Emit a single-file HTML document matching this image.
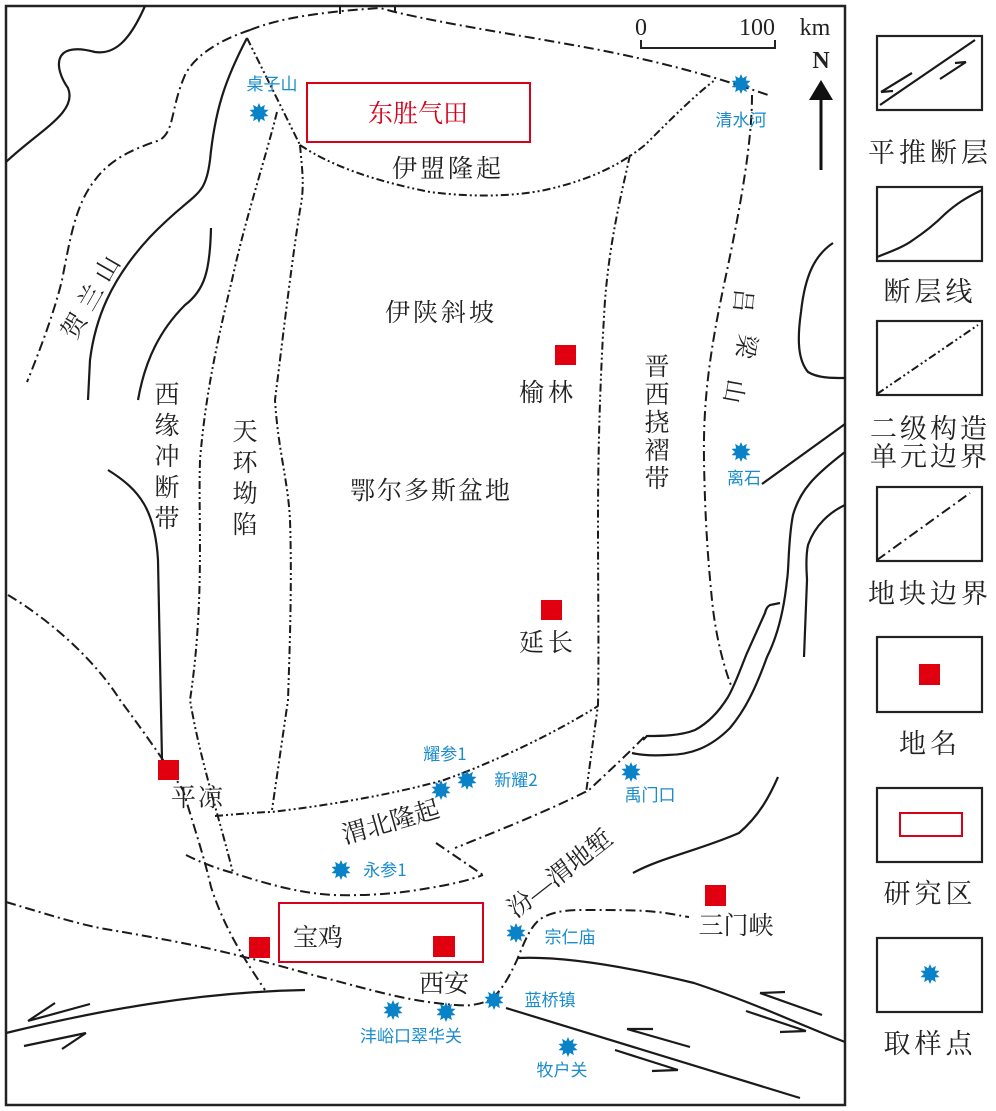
<!DOCTYPE html>
<html><head><meta charset="utf-8"><style>
html,body{margin:0;padding:0;background:#fff;}
svg{display:block;}
text{font-family:"Liberation Serif","Noto Serif CJK SC","Noto Sans CJK SC",serif;}
.c{font-family:"Noto Serif CJK SC","Noto Sans CJK SC",serif;fill:#222;}
.b{fill:#1a8ccc;font-family:"Noto Sans CJK SC",sans-serif;font-size:17px;}
.s{fill:none;stroke:#1a1a1a;stroke-width:2.2;}
.d{fill:none;stroke:#1a1a1a;stroke-width:2;stroke-dasharray:10 4 2 4;}
.dd{fill:none;stroke:#1a1a1a;stroke-width:2;stroke-dasharray:8 3 2 3 2 3;}
.r{fill:#e0000f;}
</style></head><body>
<svg width="996" height="1111" viewBox="0 0 996 1111" xmlns="http://www.w3.org/2000/svg">
<defs>
<polygon id="st" fill="#0a82c8" points="0,-10 1.85,-5.71 5.88,-8.09 4.85,-3.53 9.51,-3.09 6,0 9.51,3.09 4.85,3.53 5.88,8.09 1.85,5.71 0,10 -1.85,5.71 -5.88,8.09 -4.85,3.53 -9.51,3.09 -6,0 -9.51,-3.09 -4.85,-3.53 -5.88,-8.09 -1.85,-5.71"/>
</defs>
<rect x="0" y="0" width="996" height="1111" fill="#fff"/>
<!-- main frame -->
<rect x="6" y="6" width="839" height="1099" fill="none" stroke="#222" stroke-width="2.5"/>

<!-- solid lines -->
<path class="s" d="M145,6 C130,40 115,55 95,52 C50,40 55,70 68,88 C78,112 40,130 6,162"/>
<path class="s" d="M247,38 C225,80 215,110 210,160 C205,200 195,190 150,237 C110,280 95,320 90,360 L88,400"/>
<path class="s" d="M211,228 C210,270 205,290 185,305 C160,330 145,360 138,400"/>
<path class="s" d="M108,470 C140,490 155,510 158,560 L162,760"/>
<path class="s" d="M6,1033 C100,1010 200,992 305,990"/>
<path class="s" d="M517,958 C560,956 620,965 694,983 C760,1005 800,1025 845,1042"/>
<path class="s" d="M506,1008 L800,1098"/>
<path class="s" d="M633,873 C660,858 700,850 739,833 C760,815 770,795 778,777"/>
<path class="s" d="M833,243 C815,255 805,275 801,312 C797,340 798,360 808,372 C818,378 830,378 845,378"/>
<path class="s" d="M845,424 L762,484"/>
<path class="s" d="M845,452 C815,475 800,490 793,515 C788,540 789,570 787,580 C784,610 778,635 767,657 C755,690 745,710 730,728 C710,748 690,755 667,755 C650,756 640,755 632,753"/>
<path class="s" d="M845,505 C830,512 815,525 808,545 C805,560 807,575 807,580 L804,657"/>
<path class="s" d="M780,603 L770,605 C767,607 766,609 765,613 L747,653 C740,670 735,685 728,697 C720,710 710,722 695,730 C680,736 660,736 647,736 L643,740"/>
<!-- half arrows left -->
<path class="s" d="M28,1021 L90,1004 M28,1021 L55,1003"/>
<path class="s" d="M24,1046 L86,1033 M86,1033 L62,1049"/>
<!-- half arrows right -->
<path class="s" d="M760,993 L822,1015 M760,993 L785,992"/>
<path class="s" d="M746,1011 L806,1031 M806,1031 L780,1032"/>
<path class="s" d="M627,1029 L690,1047 M627,1029 L653,1029"/>
<path class="s" d="M615,1050 L678,1070 M678,1070 L652,1071"/>

<!-- dash-dot lines -->
<path class="d" d="M250,30 C280,18 320,12 380,8 L395,12 C450,25 520,35 600,50 C660,62 710,75 768,95"/>
<path class="d" d="M340,6 L340,14 M395,6 L395,12"/>
<path class="d" d="M250,30 C220,40 195,55 185,75 C170,110 175,130 160,140 C130,150 110,160 95,180 C75,205 70,240 62,280 C55,310 40,350 27,382"/>
<path class="dd" d="M247,38 L300,145"/>
<path class="dd" d="M300,145 C330,165 370,180 430,192 C470,197 510,197 545,190 C590,180 620,165 645,145 C670,120 695,95 715,80"/>
<path class="dd" d="M277,112 C265,160 245,220 232,280 C215,350 205,400 200,460 C198,520 205,600 190,700 C200,760 220,820 233,873"/>
<path class="dd" d="M300,145 C302,170 305,185 300,210 C292,260 285,320 275,400 C278,450 288,480 290,520 C292,580 290,640 288,700 L272,810"/>
<path class="dd" d="M630,155 C620,200 610,240 605,300 C600,380 598,450 598,520 C598,600 599,650 598,705 L586,793"/>
<path class="d" d="M752,95 C752,140 742,200 725,280 C710,350 703,400 704,460 C705,520 708,560 712,600 C716,640 725,670 732,688"/>
<path class="dd" d="M215,816 C240,814 260,812 272,812 C330,805 390,795 444,780 C500,760 560,730 598,706"/>
<path class="d" d="M644,737 C630,752 610,770 589,790 C550,810 500,830 455,848"/>
<path class="d" d="M436,843 L483,875"/>
<path class="d" d="M186,855 C200,862 215,868 233,873 C270,885 300,893 333,895 C370,896 400,893 417,890 C450,885 470,880 483,875"/>
<path class="d" d="M8,595 C50,620 95,660 120,700 C150,740 170,770 183,790 C195,830 205,860 211,887 C225,930 245,960 265,990"/>
<path class="d" d="M6,902 C50,915 80,925 111,930 C170,940 210,948 244,957 C280,965 310,975 333,980 C370,990 400,998 428,1002 C450,1005 465,1006 472,1005 C485,1003 490,1000 494,997 C505,985 510,975 517,960 C525,940 530,928 539,920 C550,912 565,910 583,910 C620,910 640,910 656,912 C670,913 680,916 689,917"/>

<!-- red boxes -->
<rect x="307" y="83" width="223" height="59" fill="none" stroke="#d8001a" stroke-width="2"/>
<text x="418" y="122" text-anchor="middle" font-size="25" fill="#d8001a" class="c" style="fill:#d8001a">东胜气田</text>
<rect x="279" y="903" width="204" height="59" fill="none" stroke="#d8001a" stroke-width="2"/>

<!-- red squares -->
<rect class="r" x="555" y="345" width="21" height="20"/>
<rect class="r" x="541" y="600" width="21" height="20"/>
<rect class="r" x="158" y="760" width="21" height="20"/>
<rect class="r" x="705" y="885" width="21" height="21"/>
<rect class="r" x="249" y="937" width="21" height="21"/>
<rect class="r" x="433" y="936" width="22" height="21"/>

<!-- stars -->
<use href="#st" x="259" y="113"/>
<use href="#st" x="741" y="84"/>
<use href="#st" x="741" y="452"/>
<use href="#st" x="441" y="790"/>
<use href="#st" x="467" y="780"/>
<use href="#st" x="631" y="772"/>
<use href="#st" x="341" y="870"/>
<use href="#st" x="516" y="933"/>
<use href="#st" x="494" y="1000"/>
<use href="#st" x="393" y="1010"/>
<use href="#st" x="446" y="1012"/>
<use href="#st" x="568" y="1047"/>

<!-- black labels -->
<g class="c" font-size="25">
<text x="448" y="177" text-anchor="middle" letter-spacing="3">伊盟隆起</text>
<text x="441" y="321" text-anchor="middle" letter-spacing="3">伊陕斜坡</text>
<text x="548" y="401" text-anchor="middle" letter-spacing="4">榆林</text>
<text x="431" y="499" text-anchor="middle" letter-spacing="2">鄂尔多斯盆地</text>
<text x="548" y="651" text-anchor="middle" letter-spacing="4">延长</text>
<text x="198" y="806" text-anchor="middle" letter-spacing="2">平凉</text>
<text x="318" y="946" text-anchor="middle">宝鸡</text>
<text x="444" y="992" text-anchor="middle">西安</text>
<text x="736" y="934" text-anchor="middle">三门峡</text>
<text transform="translate(393,830) rotate(-16)" text-anchor="middle">渭北隆起</text>
<text transform="translate(565,880) rotate(-38)" text-anchor="middle">汾—渭地堑</text>
<text transform="translate(100,298) rotate(-60)" text-anchor="middle" letter-spacing="8">贺兰山</text>
<text x="167" y="403" text-anchor="middle">西</text>
<text x="167" y="434" text-anchor="middle">缘</text>
<text x="167" y="465" text-anchor="middle">冲</text>
<text x="167" y="496" text-anchor="middle">断</text>
<text x="167" y="527" text-anchor="middle">带</text>
<text x="245" y="440" text-anchor="middle">天</text>
<text x="245" y="471" text-anchor="middle">环</text>
<text x="245" y="502" text-anchor="middle">坳</text>
<text x="245" y="533" text-anchor="middle">陷</text>
<text x="657" y="375" text-anchor="middle">晋</text>
<text x="657" y="403" text-anchor="middle">西</text>
<text x="657" y="431" text-anchor="middle">挠</text>
<text x="657" y="459" text-anchor="middle">褶</text>
<text x="657" y="487" text-anchor="middle">带</text>
<text transform="translate(735,300) rotate(95)" text-anchor="middle" font-size="24">吕</text>
<text transform="translate(738,345) rotate(100)" text-anchor="middle" font-size="24">梁</text>
<text transform="translate(726,390) rotate(100)" text-anchor="middle" font-size="24">山</text>
</g>

<!-- blue labels -->
<text class="b" x="272" y="90" text-anchor="middle">桌子山</text>
<text class="b" x="741" y="126" text-anchor="middle">清水河</text>
<text class="b" x="744" y="484" text-anchor="middle">离石</text>
<text class="b" x="445" y="760" text-anchor="middle">耀参1</text>
<text class="b" x="516" y="786" text-anchor="middle">新耀2</text>
<text class="b" x="650" y="801" text-anchor="middle">禹门口</text>
<text class="b" x="385" y="876" text-anchor="middle">永参1</text>
<text class="b" x="570" y="943" text-anchor="middle">宗仁庙</text>
<text class="b" x="550" y="1006" text-anchor="middle">蓝桥镇</text>
<text class="b" x="411" y="1042" text-anchor="middle">沣峪口翠华关</text>
<text class="b" x="562" y="1076" text-anchor="middle">牧户关</text>

<!-- scale and north -->
<path d="M641,40 L641,48 L775,48 L775,40" fill="none" stroke="#222" stroke-width="2"/>
<text x="641" y="35" text-anchor="middle" font-size="24" fill="#222">0</text>
<text x="757" y="35" text-anchor="middle" font-size="24" fill="#222">100</text>
<text x="815" y="35" text-anchor="middle" font-size="24" fill="#222">km</text>
<text x="821" y="68" text-anchor="middle" font-size="24" font-weight="bold" fill="#222">N</text>
<path d="M821,170 L821,96" stroke="#111" stroke-width="3"/>
<polygon points="809,100 821,80 833,100" fill="#111"/>

<!-- legend -->
<g fill="none" stroke="#222" stroke-width="2.2">
<rect x="877" y="36" width="105" height="74"/>
<rect x="877" y="187" width="105" height="74"/>
<rect x="877" y="321" width="105" height="74"/>
<rect x="877" y="487" width="105" height="74"/>
<rect x="877" y="637" width="105" height="75"/>
<rect x="877" y="788" width="105" height="74"/>
<rect x="877" y="938" width="105" height="74"/>
</g>
<path class="s" d="M880,105 L975,40 M881,92 L912,73 M881,92 L893,91 M940,79 L966,62 M966,62 L955,63" stroke-width="1.8"/>
<path class="s" d="M877,257 C895,250 905,246 913,240 C925,232 935,224 945,214 C955,205 965,198 982,190"/>
<path class="dd" d="M877,394 L978,325"/>
<path class="d" d="M877,560 L970,493"/>
<rect class="r" x="919" y="664" width="21" height="21"/>
<rect x="900" y="813" width="62" height="23" fill="none" stroke="#d8001a" stroke-width="2"/>
<use href="#st" x="930" y="974"/>
<g class="c" font-size="27" text-anchor="middle">
<text x="930" y="162" letter-spacing="4">平推断层</text>
<text x="930" y="301" letter-spacing="4">断层线</text>
<text x="930" y="438" letter-spacing="3">二级构造</text>
<text x="930" y="466" letter-spacing="3">单元边界</text>
<text x="930" y="603" letter-spacing="4">地块边界</text>
<text x="930" y="753" letter-spacing="4">地名</text>
<text x="930" y="903" letter-spacing="4">研究区</text>
<text x="930" y="1053" letter-spacing="4">取样点</text>
</g>
</svg>
</body></html>
